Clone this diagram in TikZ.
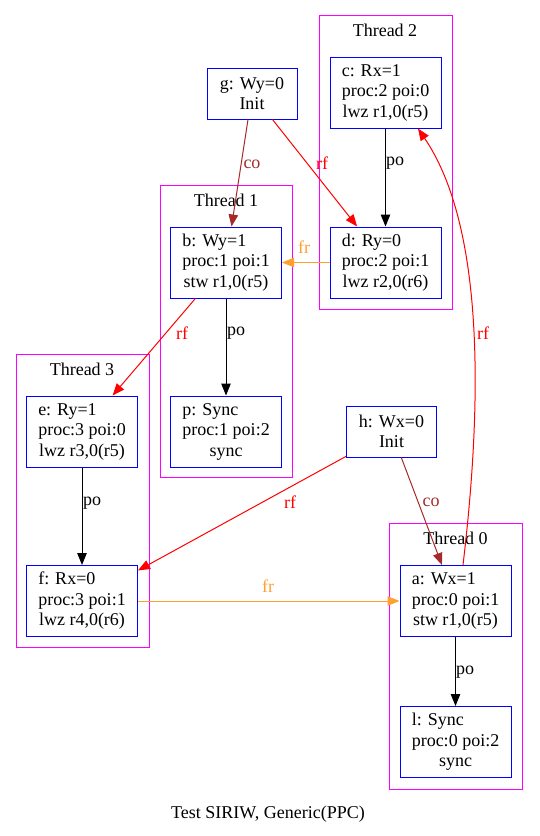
\documentclass[tikz,border=0pt]{standalone}
\usepackage{fontspec}
\setmainfont{Liberation Serif}
\usetikzlibrary{arrows.meta}
\definecolor{evblue}{RGB}{0,0,255}
\definecolor{thmag}{RGB}{255,0,255}
\definecolor{cobrown}{RGB}{165,42,42}
\definecolor{frorange}{RGB}{255,160,50}
\newcommand{\evlines}[3]{\begin{tabular}{@{}l@{}}#1\\#2\\\multicolumn{1}{@{}c@{}}{#3}\end{tabular}}
\begin{document}
\begin{tikzpicture}[x=1pt,y=-1pt,
  gvfont/.style={font=\fontsize{18}{20.5}\selectfont},
  ev/.style={draw=evblue, line width=1pt, minimum width=111pt, minimum height=71pt, inner sep=0pt, gvfont},
  initev/.style={ev, minimum width=90pt, minimum height=51pt, align=center},
  thr/.style={draw=thmag, line width=1pt},
  thlabel/.style={gvfont, inner sep=0pt},
  lab/.style={gvfont, inner sep=0pt},
  tip/.style={-{Triangle[length=12pt,width=9.5pt]}},
  poe/.style={tip, draw=black, line width=1pt},
  rfe/.style={tip, draw=red, line width=1pt},
  coe/.style={tip, draw=cobrown, line width=1pt},
  fre/.style={tip, draw=frorange, line width=1pt}]
\useasboundingbox (0,0) rectangle (539,836);
% clusters
\draw[thr] (319,15) rectangle (452,309);
\node[thlabel] (t2) at (385,30) {Thread 2};
\draw[thr] (160,185) rectangle (292,477);
\node[thlabel] (t1) at (226,200) {Thread 1};
\draw[thr] (16,354) rectangle (149,647);
\node[thlabel] (t3) at (82,369) {Thread 3};
\draw[thr] (389,523) rectangle (522,789);
\node[thlabel] (t0) at (455.5,538) {Thread 0};
% events
\node[initev] (g) at (252,93.5) {g: Wy=0\\Init};
\node[initev] (h) at (391.5,431.5) {h: Wx=0\\Init};
\node[ev] (c) at (385.5,92.5) {\evlines{c: Rx=1}{proc:2 poi:0}{lwz r1,0(r5)}};
\node[ev] (d) at (385.5,262.5) {\evlines{d: Ry=0}{proc:2 poi:1}{lwz r2,0(r6)}};
\node[ev] (b) at (226,262.5) {\evlines{b: Wy=1}{proc:1 poi:1}{stw r1,0(r5)}};
\node[ev] (p) at (226,431.5) {\evlines{p: Sync}{proc:1 poi:2}{sync}};
\node[ev] (e) at (82,431.5) {\evlines{e: Ry=1}{proc:3 poi:0}{lwz r3,0(r5)}};
\node[ev] (f) at (82,601) {\evlines{f: Rx=0}{proc:3 poi:1}{lwz r4,0(r6)}};
\node[ev] (a) at (455.5,601) {\evlines{a: Wx=1}{proc:0 poi:1}{stw r1,0(r5)}};
\node[ev] (l) at (455.5,742) {\evlines{l: Sync}{proc:0 poi:2}{sync}};
% edges
\draw[coe] (g) -- (b);
\draw[rfe] (g) -- (d);
\draw[poe] (c) -- (d);
\draw[fre] (d) -- (b);
\draw[rfe] (b) -- (e);
\draw[poe] (b) -- (p);
\draw[poe] (e) -- (f);
\draw[rfe] (h) -- (f);
\draw[coe] (h) -- (a);
\draw[fre] (f) -- (a);
\draw[rfe] ([xshift=7.5pt]a.north) .. controls (485,380) and (480,220) .. ([xshift=32.5pt]c.south);
\draw[poe] (a) -- (l);
% edge labels
\node[lab, text=cobrown] (lgb) at (252,164) {co};
\node[lab, text=red] (lgd) at (322,163) {rf};
\node[lab] (lcd) at (395,163) {po};
\node[lab, text=frorange] (ldb) at (304,247) {fr};
\node[lab, text=red] (lbe) at (182,333) {rf};
\node[lab] (lbp) at (236,333) {po};
\node[lab] (lef) at (92,503) {po};
\node[lab, text=red] (lhf) at (290,502) {rf};
\node[lab, text=cobrown] (lha) at (431,502) {co};
\node[lab, text=frorange] (lfa) at (268,586) {fr};
\node[lab, text=red] (lac) at (483,333) {rf};
\node[lab] (lal) at (465,672) {po};
% caption
\node[gvfont, inner sep=0pt] (cap) at (268,814) {Test SIRIW, Generic(PPC)};
\end{tikzpicture}
\end{document}
